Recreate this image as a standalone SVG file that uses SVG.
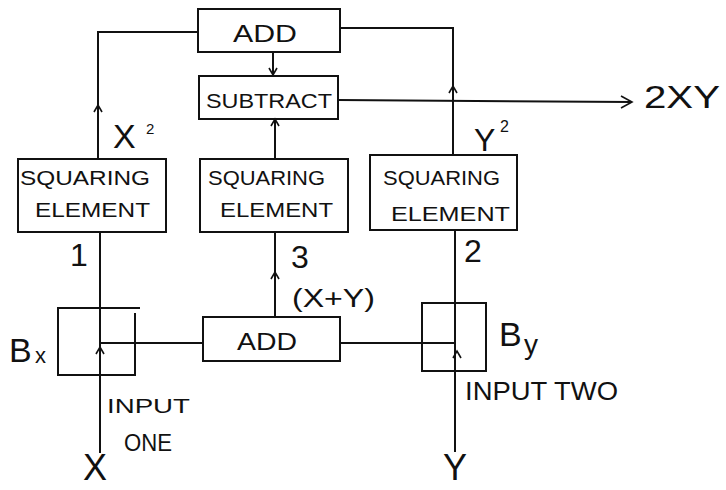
<svg xmlns="http://www.w3.org/2000/svg" width="726" height="490" viewBox="0 0 726 490">
<style>
.box{fill:none;stroke:#111;stroke-width:2}
.ln{fill:none;stroke:#111;stroke-width:2}
.ah{fill:none;stroke:#111;stroke-width:1.6}
.t{font-family:"Liberation Sans",Arial,sans-serif;fill:#111}
.lbl{font-size:21px}
</style>
<rect width="726" height="490" fill="#fff"/>
<g id="connectors">
<path class="ln" d="M198,32 H98 V158"/>
<path class="ah" d="M94,112 L98,105 L102,112"/>
<path class="ln" d="M340,28 H453 V155"/>
<path class="ah" d="M449,93 L453,86 L457,93"/>
<path class="ln" d="M273,52 V75"/>
<path class="ah" d="M269,68 L273,75 L277,68"/>
<path class="ln" d="M275,159 V119"/>
<path class="ah" d="M271,126 L275,119 L279,126"/>
<path class="ln" d="M338,100 L632,102"/>
<path class="ah" d="M621,96 L632,102 L621,108"/>
<path class="ln" d="M100,232 V453"/>
<path class="ah" d="M96,354 L100,347 L104,354"/>
<path class="ln" d="M100,343 H203"/>
<path class="ln" d="M275,317 V232"/>
<path class="ah" d="M271,279 L275,272 L279,279"/>
<path class="ln" d="M340,343 H455"/>
<path class="ln" d="M455,230 V452"/>
<path class="ah" d="M453,358 L457,351 L461,358"/>
</g>
<g id="add-top">
<rect class="box" x="198" y="9" width="142" height="43"/>
<text class="t" x="233" y="42" font-size="24" textLength="64" lengthAdjust="spacingAndGlyphs">ADD</text>
</g>
<g id="subtract">
<rect class="box" x="199" y="76" width="139" height="43"/>
<text class="t" x="206" y="108" font-size="21" textLength="126" lengthAdjust="spacingAndGlyphs">SUBTRACT</text>
</g>
<g id="squaring-1">
<rect class="box" x="18" y="159" width="148" height="73"/>
<text class="t lbl" x="20" y="185" textLength="130" lengthAdjust="spacingAndGlyphs">SQUARING</text>
<text class="t lbl" x="35" y="217" textLength="115" lengthAdjust="spacingAndGlyphs">ELEMENT</text>
</g>
<g id="squaring-3">
<rect class="box" x="200" y="159" width="148" height="73"/>
<text class="t lbl" x="208" y="185" textLength="117" lengthAdjust="spacingAndGlyphs">SQUARING</text>
<text class="t lbl" x="220" y="217" textLength="113" lengthAdjust="spacingAndGlyphs">ELEMENT</text>
</g>
<g id="squaring-2">
<rect class="box" x="370" y="155" width="147" height="75"/>
<text class="t lbl" x="383" y="185" textLength="117" lengthAdjust="spacingAndGlyphs">SQUARING</text>
<text class="t lbl" x="391" y="221" textLength="119" lengthAdjust="spacingAndGlyphs">ELEMENT</text>
</g>
<g id="add-bottom">
<rect class="box" x="203" y="317" width="137" height="44"/>
<text class="t" x="237" y="350" font-size="23" textLength="60" lengthAdjust="spacingAndGlyphs">ADD</text>
</g>
<g id="bx">
<path class="box" d="M140,308 H58 V375 H135 V313"/>
<text class="t" x="9" y="362" font-size="34">B</text>
<text class="t" x="35" y="363" font-size="22">x</text>
</g>
<g id="by">
<rect class="box" x="422" y="303" width="64" height="68"/>
<path class="ln" d="M422,343 H455"/>
<text class="t" x="499" y="346" font-size="34">B</text>
<text class="t" x="524" y="354" font-size="28">y</text>
</g>
<g id="labels">
<text class="t" x="113" y="148" font-size="34">X</text>
<text class="t" x="146" y="134" font-size="15">2</text>
<text class="t" x="474" y="151" font-size="32">Y</text>
<text class="t" x="500" y="132" font-size="16">2</text>
<text class="t" x="70" y="266" font-size="32">1</text>
<text class="t" x="291" y="268" font-size="32">3</text>
<text class="t" x="464" y="262" font-size="32">2</text>
<text class="t" x="292" y="307" font-size="25" textLength="83" lengthAdjust="spacingAndGlyphs">(X+Y)</text>
<text class="t" x="107" y="413" font-size="21" textLength="83" lengthAdjust="spacingAndGlyphs">INPUT</text>
<text class="t" x="124" y="451" font-size="24" textLength="48" lengthAdjust="spacingAndGlyphs">ONE</text>
<text class="t" x="465" y="400" font-size="26" textLength="153" lengthAdjust="spacingAndGlyphs">INPUT TWO</text>
<text class="t" x="83" y="480" font-size="36">X</text>
<text class="t" x="443" y="480" font-size="36">Y</text>
<text class="t" x="644" y="108" font-size="32" fill="#333" textLength="76" lengthAdjust="spacingAndGlyphs">2XY</text>
</g>
</svg>
